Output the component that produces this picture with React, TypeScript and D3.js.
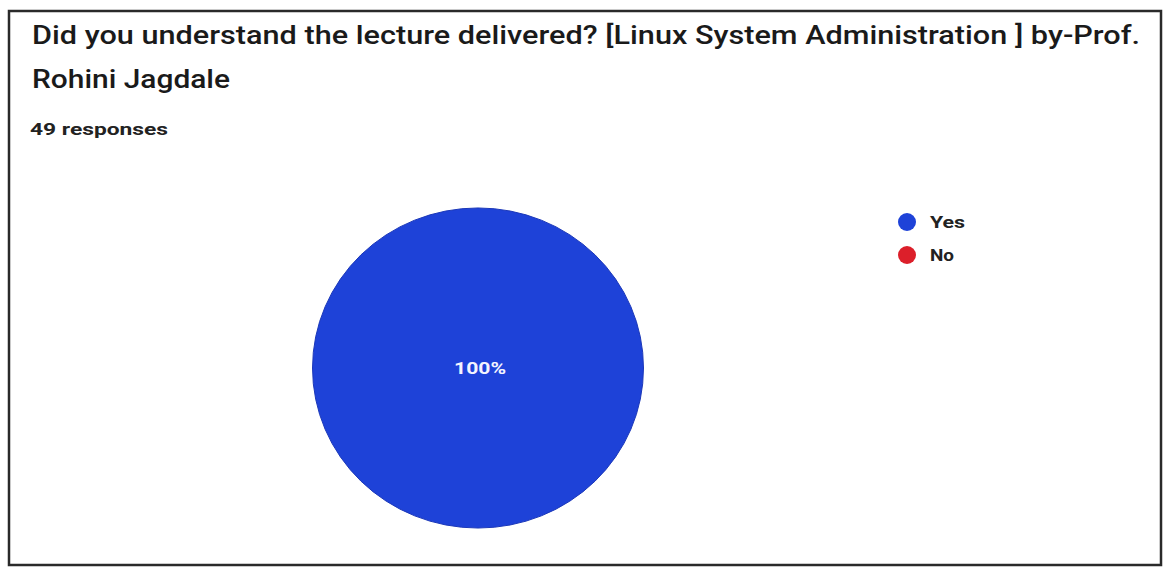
import React, { useEffect, useRef } from 'react';
import * as d3 from 'd3';

// survey answers
const categories = ['Yes', 'No'];
const responses = [49, 0];
const colors = ['#1e42d8', '#dc1f2a'];
const titleLines = [
  'Did you understand the lecture delivered? [Linux System Administration  ] by-Prof.',
  'Rohini Jagdale',
];
const responseLabel = '49 responses';

const W = 1164;
const H = 571;

const App: React.FC = () => {
  const svgRef = useRef<SVGSVGElement>(null);

  useEffect(() => {
    if (!svgRef.current) return;
    const svg = d3.select(svgRef.current);
    svg.selectAll('*').remove();

    const font = 'Roboto, "Noto Sans", sans-serif';
    // the scan is stretched sideways, so text widths are pinned to the picture
    const titleWidths = [1108, 198];
    const legendWidths = [35, 24];

    svg.append('rect').attr('width', W).attr('height', H).attr('fill', '#fff');

    // card frame
    svg
      .append('rect')
      .attr('x', 9)
      .attr('y', 11)
      .attr('width', 1152)
      .attr('height', 554)
      .attr('fill', 'none')
      .attr('stroke', '#2a2a2a')
      .attr('stroke-width', 2.5);

    svg
      .selectAll('.title')
      .data(titleLines)
      .enter()
      .append('text')
      .attr('class', 'title')
      .attr('x', 32)
      .attr('y', (_, i) => 44 + i * 44)
      .attr('font-family', font)
      .attr('font-size', 26)
      .attr('font-weight', 500)
      .attr('fill', '#1a1a1a')
      .attr('textLength', (_, i) => titleWidths[i])
      .attr('lengthAdjust', 'spacingAndGlyphs')
      .text((d) => d);

    svg
      .append('text')
      .attr('x', 30)
      .attr('y', 135)
      .attr('font-family', font)
      .attr('font-size', 16.5)
      .attr('font-weight', 700)
      .attr('fill', '#222')
      .attr('textLength', 138)
      .attr('lengthAdjust', 'spacingAndGlyphs')
      .text(responseLabel);

    const data = categories.map((c, i) => ({ name: c, value: responses[i], color: colors[i] }));
    const total = d3.sum(responses);
    type Slice = (typeof data)[0];
    const pie = d3.pie<Slice>().sort(null).value((d) => d.value);
    const arc = d3.arc<d3.PieArcDatum<Slice>>().innerRadius(0).outerRadius(165.5);
    const arcs = pie(data).filter((a) => a.data.value > 0);

    // the pie is a touch squashed in the scan
    const g = svg.append('g').attr('transform', 'translate(478,368) scale(1,0.967)');

    g.selectAll('path')
      .data(arcs)
      .enter()
      .append('path')
      .attr('d', (d) => arc(d) as string)
      .attr('fill', (d) => d.data.color)
      .attr('stroke', '#1a36b8')
      .attr('stroke-width', 1);

    svg
      .selectAll('.pct')
      .data(arcs)
      .enter()
      .append('text')
      .attr('class', 'pct')
      .attr('transform', (d) => {
        if (d.endAngle - d.startAngle >= 2 * Math.PI - 1e-6) return 'translate(480,368)';
        const [x, y] = d3.arc<d3.PieArcDatum<Slice>>().innerRadius(0).outerRadius(110).centroid(d);
        return `translate(${478 + x},${368 + y})`;
      })
      .attr('text-anchor', 'middle')
      .attr('dy', '0.36em')
      .attr('font-family', font)
      .attr('font-size', 17)
      .attr('font-weight', 700)
      .attr('fill', '#f4f4ff')
      .attr('textLength', 52)
      .attr('lengthAdjust', 'spacingAndGlyphs')
      .text((d) => `${Math.round((d.data.value / total) * 100)}%`);

    const legend = svg
      .selectAll('.legend')
      .data(data)
      .enter()
      .append('g')
      .attr('class', 'legend')
      .attr('transform', (_, i) => `translate(907,${222 + i * 33})`);

    legend.append('circle').attr('r', 9).attr('fill', (d) => d.color);
    legend
      .append('text')
      .attr('x', 23)
      .attr('dy', '0.36em')
      .attr('font-family', font)
      .attr('font-size', 16)
      .attr('font-weight', 700)
      .attr('fill', '#222')
      .attr('textLength', (_, i) => legendWidths[i])
      .attr('lengthAdjust', 'spacingAndGlyphs')
      .text((d) => d.name);
  }, []);

  return (
    <svg
      ref={svgRef}
      width={W}
      height={H}
      style={{ position: 'absolute', top: 0, left: 0 }}
    />
  );
};

export default App;
